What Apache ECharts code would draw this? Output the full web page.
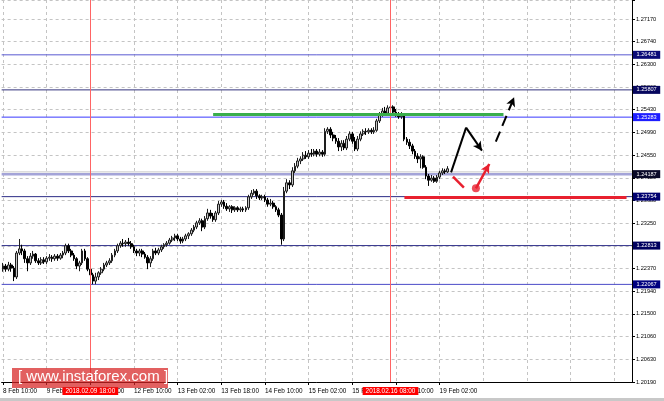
<!DOCTYPE html>
<html><head><meta charset="utf-8">
<script src="https://cdn.jsdelivr.net/npm/echarts@6/dist/echarts.min.js"></script>
<style>html,body{margin:0;padding:0;background:#fff}#c{width:664px;height:401px}</style>
</head><body><div id="c"></div>
<script>
// ---- y axis ticks (MT4 style, evenly spaced) ----
const yTickLabels = ['1.20190','1.20630','1.21060','1.21500','1.21940','1.22370','1.22810','1.23250','1.23680','1.24120','1.24550','1.24990','1.25430','1.25860','1.26300','1.26740','1.27170'];
const Y_MIN = 1.20190, Y_STEP = 0.0043625, Y_MAX = 1.275353;

// ---- time slots (H1 bars, weekends skipped) ----
const N_SLOTS = 231;
const LABEL_EVERY = 16, LAST_LABEL_INDEX = 160;
const categories = [];
(function () {
  const mon = ['Jan','Feb','Mar','Apr','May','Jun','Jul','Aug','Sep','Oct','Nov','Dec'];
  let t = Date.UTC(2018, 1, 8, 10);
  for (let k = 0; k < N_SLOTS; k++) {
    const d = new Date(t);
    const hh = String(d.getUTCHours()).padStart(2, '0');
    categories.push(d.getUTCDate() + ' ' + mon[d.getUTCMonth()] + ' ' + hh + ':00');
    t += 3600e3;
    while ([0, 6].includes(new Date(t).getUTCDay())) t += 3600e3;
  }
})();

// ---- OHLC (H1) ----
const open = [1.2236,1.2242,1.2236,1.2244,1.2238,1.2221,1.2267,1.2275,1.2271,1.2256,
1.2248,1.2261,1.2265,1.2252,1.2248,1.2254,1.2250,1.2257,1.2259,1.2256,
1.2261,1.2257,1.2263,1.2267,1.2281,1.2271,1.2263,1.2256,1.2242,1.2248,
1.2271,1.2256,1.2236,1.2225,1.2213,1.2221,1.2229,1.2236,1.2244,1.2248,
1.2252,1.2263,1.2271,1.2281,1.2286,1.2285,1.2288,1.2285,1.2279,1.2271,
1.2267,1.2271,1.2265,1.2259,1.2248,1.2256,1.2271,1.2267,1.2273,1.2279,
1.2283,1.2286,1.2292,1.2296,1.2300,1.2294,1.2290,1.2294,1.2300,1.2304,
1.2311,1.2317,1.2325,1.2329,1.2317,1.2333,1.2344,1.2338,1.2331,1.2344,
1.2361,1.2365,1.2357,1.2352,1.2356,1.2350,1.2354,1.2350,1.2352,1.2350,
1.2354,1.2375,1.2382,1.2386,1.2377,1.2373,1.2375,1.2369,1.2361,1.2363,
1.2356,1.2350,1.2340,1.2294,1.2386,1.2402,1.2398,1.2425,1.2434,1.2444,
1.2448,1.2455,1.2452,1.2459,1.2457,1.2463,1.2457,1.2461,1.2457,1.2501,
1.2505,1.2494,1.2488,1.2482,1.2471,1.2478,1.2469,1.2486,1.2496,1.2482,
1.2467,1.2486,1.2496,1.2501,1.2500,1.2503,1.2500,1.2503,1.2521,1.2532,
1.2540,1.2536,1.2546,1.2548,1.2538,1.2534,1.2529,1.2532,1.2486,1.2480,
1.2473,1.2463,1.2453,1.2448,1.2452,1.2432,1.2415,1.2407,1.2411,1.2405,
1.2413,1.2421,1.2425,1.2423];
const close = [1.2242,1.2236,1.2244,1.2238,1.2221,1.2267,1.2275,1.2271,1.2256,1.2248,
1.2261,1.2265,1.2252,1.2248,1.2254,1.2250,1.2257,1.2259,1.2256,1.2261,
1.2257,1.2263,1.2267,1.2281,1.2271,1.2263,1.2256,1.2242,1.2248,1.2271,
1.2256,1.2236,1.2225,1.2213,1.2221,1.2229,1.2236,1.2244,1.2248,1.2252,
1.2263,1.2271,1.2281,1.2286,1.2285,1.2288,1.2285,1.2279,1.2271,1.2267,
1.2271,1.2265,1.2259,1.2248,1.2256,1.2271,1.2267,1.2273,1.2279,1.2283,
1.2286,1.2292,1.2296,1.2300,1.2294,1.2290,1.2294,1.2300,1.2304,1.2311,
1.2317,1.2325,1.2329,1.2317,1.2333,1.2344,1.2338,1.2331,1.2344,1.2361,
1.2365,1.2357,1.2352,1.2356,1.2350,1.2354,1.2350,1.2352,1.2350,1.2354,
1.2375,1.2382,1.2386,1.2377,1.2373,1.2375,1.2369,1.2361,1.2363,1.2356,
1.2350,1.2340,1.2294,1.2386,1.2402,1.2398,1.2425,1.2434,1.2444,1.2448,
1.2455,1.2452,1.2459,1.2457,1.2463,1.2457,1.2461,1.2457,1.2501,1.2505,
1.2494,1.2488,1.2482,1.2471,1.2478,1.2469,1.2486,1.2496,1.2482,1.2467,
1.2486,1.2496,1.2501,1.2500,1.2503,1.2500,1.2503,1.2521,1.2532,1.2540,
1.2536,1.2546,1.2548,1.2538,1.2534,1.2529,1.2532,1.2486,1.2480,1.2473,
1.2463,1.2453,1.2448,1.2452,1.2432,1.2415,1.2407,1.2411,1.2405,1.2413,
1.2421,1.2425,1.2423,1.2429];
const low = [1.2231,1.2231,1.2232,1.2231,1.2213,1.2217,1.2263,1.2263,1.2248,1.2232,
1.2244,1.2256,1.2248,1.2244,1.2244,1.2246,1.2246,1.2252,1.2250,1.2252,
1.2252,1.2254,1.2257,1.2263,1.2267,1.2259,1.2252,1.2236,1.2232,1.2244,
1.2252,1.2232,1.2217,1.2207,1.2207,1.2215,1.2225,1.2232,1.2240,1.2244,
1.2248,1.2259,1.2267,1.2277,1.2279,1.2279,1.2281,1.2275,1.2267,1.2261,
1.2261,1.2259,1.2256,1.2236,1.2240,1.2252,1.2263,1.2263,1.2269,1.2275,
1.2279,1.2283,1.2288,1.2290,1.2290,1.2285,1.2286,1.2290,1.2294,1.2300,
1.2307,1.2313,1.2321,1.2309,1.2313,1.2329,1.2333,1.2327,1.2327,1.2340,
1.2356,1.2352,1.2348,1.2346,1.2344,1.2346,1.2346,1.2346,1.2346,1.2346,
1.2350,1.2371,1.2379,1.2371,1.2369,1.2369,1.2365,1.2356,1.2357,1.2352,
1.2346,1.2336,1.2283,1.2290,1.2382,1.2390,1.2394,1.2421,1.2430,1.2438,
1.2444,1.2448,1.2448,1.2452,1.2453,1.2452,1.2453,1.2452,1.2453,1.2496,
1.2488,1.2482,1.2477,1.2463,1.2463,1.2465,1.2465,1.2482,1.2477,1.2463,
1.2463,1.2482,1.2492,1.2494,1.2496,1.2496,1.2496,1.2500,1.2517,1.2529,
1.2532,1.2532,1.2540,1.2534,1.2529,1.2525,1.2525,1.2482,1.2475,1.2467,
1.2457,1.2448,1.2440,1.2430,1.2429,1.2409,1.2396,1.2404,1.2402,1.2402,
1.2409,1.2417,1.2419,1.2421];
const high = [1.2248,1.2246,1.2250,1.2248,1.2242,1.2271,1.2294,1.2283,1.2275,1.2261,
1.2267,1.2271,1.2267,1.2257,1.2259,1.2259,1.2261,1.2265,1.2263,1.2265,
1.2265,1.2267,1.2271,1.2285,1.2285,1.2275,1.2267,1.2259,1.2252,1.2275,
1.2275,1.2259,1.2240,1.2229,1.2229,1.2232,1.2240,1.2248,1.2252,1.2257,
1.2267,1.2275,1.2285,1.2290,1.2294,1.2292,1.2296,1.2290,1.2283,1.2275,
1.2275,1.2275,1.2269,1.2263,1.2261,1.2275,1.2277,1.2277,1.2283,1.2286,
1.2290,1.2296,1.2300,1.2304,1.2304,1.2298,1.2298,1.2304,1.2307,1.2315,
1.2321,1.2329,1.2334,1.2333,1.2338,1.2352,1.2350,1.2344,1.2348,1.2367,
1.2369,1.2369,1.2363,1.2359,1.2359,1.2357,1.2357,1.2356,1.2356,1.2357,
1.2379,1.2388,1.2390,1.2390,1.2380,1.2379,1.2379,1.2373,1.2371,1.2367,
1.2359,1.2354,1.2344,1.2394,1.2409,1.2407,1.2432,1.2440,1.2450,1.2453,
1.2461,1.2463,1.2465,1.2467,1.2467,1.2467,1.2467,1.2465,1.2507,1.2509,
1.2509,1.2500,1.2494,1.2488,1.2484,1.2484,1.2492,1.2501,1.2500,1.2490,
1.2492,1.2501,1.2505,1.2507,1.2507,1.2507,1.2509,1.2525,1.2538,1.2546,
1.2548,1.2551,1.2555,1.2551,1.2544,1.2538,1.2538,1.2536,1.2490,1.2486,
1.2477,1.2467,1.2459,1.2457,1.2455,1.2436,1.2419,1.2417,1.2415,1.2417,
1.2425,1.2430,1.2429,1.2434];

// ---- horizontal levels ----
const levels = [1.26481, 1.25807, 1.25283, 1.24187, 1.23754, 1.22813, 1.22067];
const askLevel = 1.2423;
// ---- vertical markers (bar index) ----
const markerIdx = [32, 142];
const markerLabels = ['2018.02.09 18:00', '2018.02.16 08:00'];
// ---- drawn forecast (x in bar-index units, y in price) ----
const greenLevel = { from: 77, to: 183.4, price: 1.2534 };
const redLevel = { from: 147.1, to: 228.5, price: 1.2374 };
const blackPath = [[164.2, 1.24222], [169.7, 1.25080], [175.5, 1.24638]];
const blackDashed = [[180.6, 1.24811], [187.3, 1.25664]];
const redDash = [[164.9, 1.24138], [168.9, 1.23926]];
const redDot = [[173.3, 1.23915]];
const redArrowTip = [178.2, 1.24382];

// ---- styles ----
const levelLineColors = ['#5a5ad2', '#34347e', '#3838ff', '#a4a4d8', '#2c2c86', '#30308a', '#4a4ac8'];
const levelBoxColors = ['#0b0b78', '#06065e', '#1e1eff', '#0a0a28', '#000070', '#00005e', '#000080'];
const levelWidths = [1, 1, 1, 2.5, 1, 1, 1];
const FONT = '"Liberation Sans", Arial, sans-serif';

const candleData = open.map((o, i) => [o, close[i], low[i], high[i]]);
const X_LEFT = -0.5, X_RIGHT = N_SLOTS - 0.5;

function seg(a, b, style, arrow, label) {
  return [
    { coord: a, symbol: 'none', lineStyle: style, label: label || { show: false } },
    { coord: b, symbol: arrow ? 'arrow' : 'none', symbolSize: arrow ? [7, 9] : 0 }
  ];
}

// one line series per horizontal level, boxed price label at the right end
const levelSeries = levels.map((v, k) => ({
  type: 'line', xAxisIndex: 1, yAxisIndex: 0, z: 1, silent: true,
  data: [[X_LEFT, v], [X_RIGHT, v]],
  showSymbol: false, symbol: 'none', clip: false,
  color: levelLineColors[k],
  lineStyle: { color: levelLineColors[k], width: levelWidths[k], type: 'solid' },
  endLabel: {
    show: true, distance: 1, formatter: v.toFixed(5),
    color: '#fff', backgroundColor: levelBoxColors[k],
    fontFamily: FONT, fontSize: 5.6, lineHeight: 6, padding: [1, 3.5]
  }
}));
const askSeries = {
  type: 'line', xAxisIndex: 1, yAxisIndex: 0, z: 1, silent: true,
  data: [[X_LEFT, askLevel], [X_RIGHT, askLevel]], showSymbol: false, symbol: 'none',
  color: '#c8c8c8', lineStyle: { color: '#c8c8c8', width: 1 }
};

const markerItems = markerIdx.map((ix, k) => seg([ix, Y_MIN], [ix, Y_MAX],
  { color: '#ff6464', width: 1, type: 'solid' }, false,
  { show: true, position: 'start', distance: 5, formatter: markerLabels[k],
    color: '#fff', backgroundColor: '#ff0000',
    fontFamily: FONT, fontSize: 6.4, lineHeight: 7, padding: [0.5, 3] }));

const chart = echarts.init(document.getElementById('c'), null, { renderer: 'canvas', devicePixelRatio: 1 });
const interval16 = (i) => i % LABEL_EVERY === 0 && i <= LAST_LABEL_INDEX;

chart.setOption({
  animation: false,
  backgroundColor: '#ffffff',
  grid: { left: -2.2, top: 0, right: 32, bottom: 19 },
  xAxis: [{
    type: 'category', data: categories, boundaryGap: true,
    axisLine: { show: true, lineStyle: { color: '#000', width: 1 } },
    axisTick: { show: true, interval: interval16, alignWithLabel: true, length: 3, lineStyle: { color: '#000' } },
    axisLabel: { show: true, interval: interval16, align: 'left', margin: 6, color: '#000', fontFamily: FONT, fontSize: 6.4 },
    splitLine: { show: true, interval: (i) => i % LABEL_EVERY === 0, alignWithLabel: true, lineStyle: { color: '#c4c4c4', type: [3, 3], width: 1 } }
  }, {
    type: 'value', min: X_LEFT, max: X_RIGHT, show: false, splitLine: { show: false }
  }],
  yAxis: [{
    type: 'value', position: 'right', min: Y_MIN, max: Y_MAX, interval: Y_STEP,
    axisLine: { show: true, onZero: false, lineStyle: { color: '#000', width: 1 } },
    axisTick: { show: true, length: 3, lineStyle: { color: '#000' } },
    axisLabel: {
      show: true, margin: 4, color: '#000', fontFamily: FONT, fontSize: 5.6,
      formatter: function (v) {
        const k = (v - Y_MIN) / Y_STEP, r = Math.round(k);
        if (Math.abs(k - r) > 0.02 || r < 0 || r >= yTickLabels.length) return '';
        return yTickLabels[r];
      }
    },
    splitLine: { show: true, lineStyle: { color: '#c4c4c4', type: [3, 3], width: 1 } }
  }],
  series: [askSeries].concat(levelSeries).concat([{
    type: 'candlestick', xAxisIndex: 0, yAxisIndex: 0, z: 2,
    data: candleData, barWidth: 2.2,
    itemStyle: { color: '#c4c4c4', color0: '#000000', borderColor: '#1e1e1e', borderColor0: '#000000', borderWidth: 1 }
  }, {
    type: 'line', xAxisIndex: 1, yAxisIndex: 0, data: [], silent: true, z: 3,
    markLine: {
      silent: true, animation: false, symbol: ['none', 'none'],
      data: markerItems.concat([
        seg([greenLevel.from, greenLevel.price], [greenLevel.to, greenLevel.price], { color: '#3aae4c', width: 3, type: 'solid' }, false),
        seg([redLevel.from, redLevel.price], [redLevel.to, redLevel.price], { color: '#e8202f', width: 3, type: 'solid' }, false),
        seg(blackPath[0], blackPath[1], { color: '#000', width: 2, type: 'solid' }, false),
        seg(blackPath[1], blackPath[2], { color: '#000', width: 2, type: 'solid' }, true),
        seg(blackDashed[0], blackDashed[1], { color: '#000', width: 2, type: [11, 6] }, true),
        seg(redDash[0], redDash[1], { color: '#e8202f', width: 2.5, type: 'solid' }, false),
        seg(redDot[0], redArrowTip, { color: '#e8202f', width: 2.5, type: 'solid' }, true)
      ])
    }
  }, {
    type: 'scatter', xAxisIndex: 1, yAxisIndex: 0, data: redDot, symbol: 'circle', symbolSize: 8,
    itemStyle: { color: '#e8202f' }, silent: true, z: 5
  }]),
  graphic: [
    { type: 'rect', shape: { x: 0, y: 398, width: 664, height: 3 }, style: { fill: '#c8c8c8' }, z: 100, silent: true },
    { type: 'rect', shape: { x: 12, y: 368, width: 156, height: 20 }, style: { fill: 'rgba(215,35,35,0.72)' }, z: 100, silent: true },
    { type: 'text', left: 18, top: 369, z: 101, silent: true,
      style: { text: '[ www.instaforex.com ]', fill: '#ffffff', font: '15px "Liberation Sans", Arial, sans-serif' } }
  ]
});
</script>
</body></html>
